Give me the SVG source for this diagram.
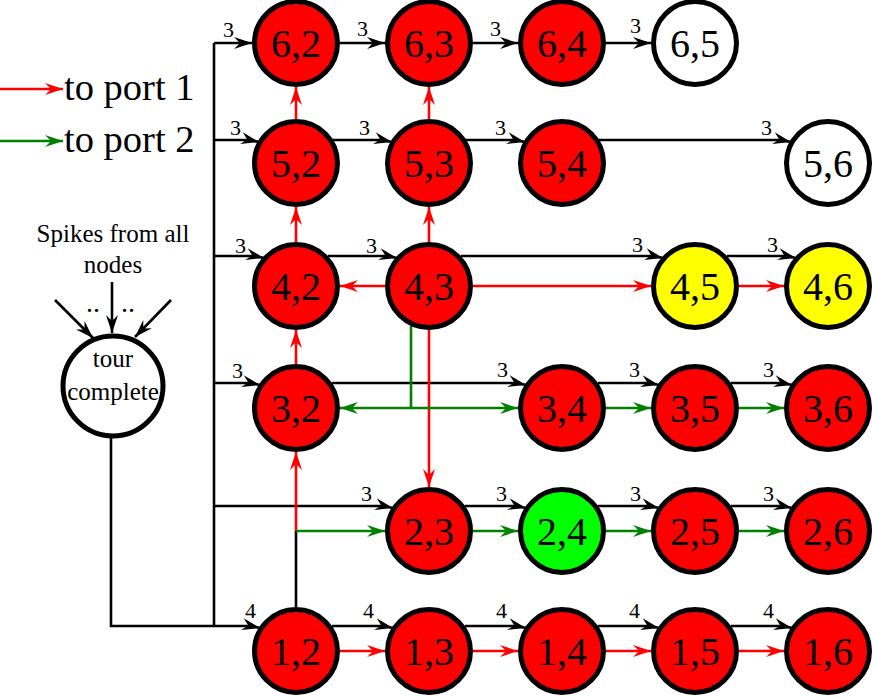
<svg xmlns="http://www.w3.org/2000/svg" width="872" height="697" viewBox="0 0 872 697">
<style>
.k{fill:none;stroke:#000;stroke-width:2.6;marker-end:url(#ab)}
.kn{fill:none;stroke:#000;stroke-width:2.6}
.r{fill:none;stroke:#f00;stroke-width:2.6;marker-end:url(#ar)}
.g{fill:none;stroke:#008000;stroke-width:2.6;marker-end:url(#ag)}
.gn{fill:none;stroke:#008000;stroke-width:2.6}
.n circle{stroke:#000;stroke-width:5}
.red{fill:#f00}.yel{fill:#ff0}.grn{fill:#0f0}.wht{fill:#fff}
</style>
<defs>
<marker id="ab" viewBox="-19 -7 20 14" markerWidth="20" markerHeight="14" refX="0" refY="0" orient="auto" markerUnits="userSpaceOnUse"><path d="M0,0 L-18,-6 L-12,0 L-18,6 Z" fill="#000"/></marker>
<marker id="ar" viewBox="-19 -7 20 14" markerWidth="20" markerHeight="14" refX="0" refY="0" orient="auto" markerUnits="userSpaceOnUse"><path d="M0,0 L-18,-6 L-12,0 L-18,6 Z" fill="#f00"/></marker>
<marker id="ag" viewBox="-19 -7 20 14" markerWidth="20" markerHeight="14" refX="0" refY="0" orient="auto" markerUnits="userSpaceOnUse"><path d="M0,0 L-18,-6 L-12,0 L-18,6 Z" fill="#008000"/></marker>
</defs>

<g id="legend">
<path class="r" d="M0,89 H63"/>
<text x="64" y="100" style="font-family:'Liberation Serif',serif;font-size:38.5px">to port 1</text>
<path class="g" d="M0,141 H63"/>
<text x="64" y="152" style="font-family:'Liberation Serif',serif;font-size:38.5px">to port 2</text>
</g>

<g id="connectors">
<path class="kn" d="M214,626 V43"/>
<path class="k" d="M111,438 V626 H251 L260,628"/>
<path class="k" d="M112,282 V333"/>
<path class="k" d="M55,300 L93,338"/>
<path class="k" d="M171,300 L135,337"/>
<path class="k" d="M214,43 H252"/>
<path class="k" d="M340,43 H385"/>
<path class="k" d="M473,43 H518"/>
<path class="k" d="M606,43 H651"/>
<path class="k" d="M214,140 H250 L259,142"/>
<path class="k" d="M333,140 H383 L392,142"/>
<path class="k" d="M466,140 H516 L525,142"/>
<path class="k" d="M599,140 H782 L791,142"/>
<path class="k" d="M214,256 H255 L264,258"/>
<path class="k" d="M328,256 H388 L397,258"/>
<path class="k" d="M461,256 H654 L663,258"/>
<path class="k" d="M727,256 H787 L796,258"/>
<path class="k" d="M214,383 H251 L260,385"/>
<path class="k" d="M332,383 H517 L526,385"/>
<path class="k" d="M598,383 H650 L659,385"/>
<path class="k" d="M731,383 H783 L792,385"/>
<path class="k" d="M214,506 H384 L393,508"/>
<path class="k" d="M465,506 H517 L526,508"/>
<path class="k" d="M598,506 H650 L659,508"/>
<path class="k" d="M731,506 H783 L792,508"/>
<path class="k" d="M332,626 H384 L393,628"/>
<path class="k" d="M465,626 H517 L526,628"/>
<path class="k" d="M598,626 H650 L659,628"/>
<path class="k" d="M731,626 H783 L792,628"/>
<path class="r" d="M340,651 H385"/>
<path class="r" d="M473,651 H518"/>
<path class="r" d="M606,651 H651"/>
<path class="r" d="M739,651 H784"/>
<path class="kn" d="M296,607 V531"/>
<path class="r" d="M296,531 V452"/>
<path class="r" d="M296,364 V330"/>
<path class="r" d="M296,242 V207"/>
<path class="r" d="M296,119 V87"/>
<path class="r" d="M429,242 V207"/>
<path class="r" d="M429,119 V87"/>
<path class="r" d="M385,286 H340"/>
<path class="r" d="M429,330 V487"/>
<path class="r" d="M473,286 H651"/>
<path class="r" d="M739,286 H784"/>
<path class="g" d="M296,531 H385"/>
<path class="gn" d="M411,326 V408"/>
<path class="g" d="M411,408 H340"/>
<path class="g" d="M411,408 H518"/>
<path class="g" d="M606,408 H651"/>
<path class="g" d="M739,408 H784"/>
<path class="g" d="M473,531 H518"/>
<path class="g" d="M606,531 H651"/>
<path class="g" d="M739,531 H784"/>
</g>

<g id="edge-labels">
<text x="223" y="37" style="font-family:'Liberation Serif',serif;font-size:22px">3</text>
<text x="357" y="36" style="font-family:'Liberation Serif',serif;font-size:22px">3</text>
<text x="490" y="36" style="font-family:'Liberation Serif',serif;font-size:22px">3</text>
<text x="630" y="33" style="font-family:'Liberation Serif',serif;font-size:22px">3</text>
<text x="230" y="135" style="font-family:'Liberation Serif',serif;font-size:22px">3</text>
<text x="359" y="135" style="font-family:'Liberation Serif',serif;font-size:22px">3</text>
<text x="495" y="135" style="font-family:'Liberation Serif',serif;font-size:22px">3</text>
<text x="761" y="135" style="font-family:'Liberation Serif',serif;font-size:22px">3</text>
<text x="235" y="253" style="font-family:'Liberation Serif',serif;font-size:22px">3</text>
<text x="366" y="253" style="font-family:'Liberation Serif',serif;font-size:22px">3</text>
<text x="632" y="252" style="font-family:'Liberation Serif',serif;font-size:22px">3</text>
<text x="767" y="252" style="font-family:'Liberation Serif',serif;font-size:22px">3</text>
<text x="232" y="378" style="font-family:'Liberation Serif',serif;font-size:22px">3</text>
<text x="497" y="377" style="font-family:'Liberation Serif',serif;font-size:22px">3</text>
<text x="629" y="377" style="font-family:'Liberation Serif',serif;font-size:22px">3</text>
<text x="763" y="377" style="font-family:'Liberation Serif',serif;font-size:22px">3</text>
<text x="361" y="501" style="font-family:'Liberation Serif',serif;font-size:22px">3</text>
<text x="496" y="501" style="font-family:'Liberation Serif',serif;font-size:22px">3</text>
<text x="630" y="501" style="font-family:'Liberation Serif',serif;font-size:22px">3</text>
<text x="763" y="501" style="font-family:'Liberation Serif',serif;font-size:22px">3</text>
<text x="245" y="618" style="font-family:'Liberation Serif',serif;font-size:22px">4</text>
<text x="363" y="618" style="font-family:'Liberation Serif',serif;font-size:22px">4</text>
<text x="496" y="618" style="font-family:'Liberation Serif',serif;font-size:22px">4</text>
<text x="629" y="618" style="font-family:'Liberation Serif',serif;font-size:22px">4</text>
<text x="763" y="618" style="font-family:'Liberation Serif',serif;font-size:22px">4</text>
</g>

<g id="tour">
<text x="113" y="242" text-anchor="middle" style="font-family:'Liberation Serif',serif;font-size:25px">Spikes from all</text>
<text x="113" y="273" text-anchor="middle" style="font-family:'Liberation Serif',serif;font-size:25px">nodes</text>
<text x="93" y="312" text-anchor="middle" style="font-family:'Liberation Serif',serif;font-size:28px">..</text>
<text x="128" y="312" text-anchor="middle" style="font-family:'Liberation Serif',serif;font-size:28px">..</text>
<circle cx="113" cy="386" r="50" fill="#fff" stroke="#000" stroke-width="5"/>
<text x="113" y="367" text-anchor="middle" style="font-family:'Liberation Serif',serif;font-size:25px">tour</text>
<text x="113" y="400" text-anchor="middle" style="font-family:'Liberation Serif',serif;font-size:25px">complete</text>
</g>

<g id="nodes">
<g id="n62" class="n"><circle class="red" cx="296" cy="43" r="41.5"/><text x="296" y="57" text-anchor="middle" style="font-family:'Liberation Serif',serif;font-size:40px">6,2</text></g>
<g id="n63" class="n"><circle class="red" cx="429" cy="43" r="41.5"/><text x="429" y="57" text-anchor="middle" style="font-family:'Liberation Serif',serif;font-size:40px">6,3</text></g>
<g id="n64" class="n"><circle class="red" cx="562" cy="43" r="41.5"/><text x="562" y="57" text-anchor="middle" style="font-family:'Liberation Serif',serif;font-size:40px">6,4</text></g>
<g id="n65" class="n"><circle class="wht" cx="695" cy="43" r="41.5"/><text x="695" y="57" text-anchor="middle" style="font-family:'Liberation Serif',serif;font-size:40px">6,5</text></g>
<g id="n52" class="n"><circle class="red" cx="296" cy="163" r="41.5"/><text x="296" y="177" text-anchor="middle" style="font-family:'Liberation Serif',serif;font-size:40px">5,2</text></g>
<g id="n53" class="n"><circle class="red" cx="429" cy="163" r="41.5"/><text x="429" y="177" text-anchor="middle" style="font-family:'Liberation Serif',serif;font-size:40px">5,3</text></g>
<g id="n54" class="n"><circle class="red" cx="562" cy="163" r="41.5"/><text x="562" y="177" text-anchor="middle" style="font-family:'Liberation Serif',serif;font-size:40px">5,4</text></g>
<g id="n56" class="n"><circle class="wht" cx="828" cy="163" r="41.5"/><text x="828" y="177" text-anchor="middle" style="font-family:'Liberation Serif',serif;font-size:40px">5,6</text></g>
<g id="n42" class="n"><circle class="red" cx="296" cy="286" r="41.5"/><text x="296" y="300" text-anchor="middle" style="font-family:'Liberation Serif',serif;font-size:40px">4,2</text></g>
<g id="n43" class="n"><circle class="red" cx="429" cy="286" r="41.5"/><text x="429" y="300" text-anchor="middle" style="font-family:'Liberation Serif',serif;font-size:40px">4,3</text></g>
<g id="n45" class="n"><circle class="yel" cx="695" cy="286" r="41.5"/><text x="695" y="300" text-anchor="middle" style="font-family:'Liberation Serif',serif;font-size:40px">4,5</text></g>
<g id="n46" class="n"><circle class="yel" cx="828" cy="286" r="41.5"/><text x="828" y="300" text-anchor="middle" style="font-family:'Liberation Serif',serif;font-size:40px">4,6</text></g>
<g id="n32" class="n"><circle class="red" cx="296" cy="408" r="41.5"/><text x="296" y="422" text-anchor="middle" style="font-family:'Liberation Serif',serif;font-size:40px">3,2</text></g>
<g id="n34" class="n"><circle class="red" cx="562" cy="408" r="41.5"/><text x="562" y="422" text-anchor="middle" style="font-family:'Liberation Serif',serif;font-size:40px">3,4</text></g>
<g id="n35" class="n"><circle class="red" cx="695" cy="408" r="41.5"/><text x="695" y="422" text-anchor="middle" style="font-family:'Liberation Serif',serif;font-size:40px">3,5</text></g>
<g id="n36" class="n"><circle class="red" cx="828" cy="408" r="41.5"/><text x="828" y="422" text-anchor="middle" style="font-family:'Liberation Serif',serif;font-size:40px">3,6</text></g>
<g id="n23" class="n"><circle class="red" cx="429" cy="531" r="41.5"/><text x="429" y="545" text-anchor="middle" style="font-family:'Liberation Serif',serif;font-size:40px">2,3</text></g>
<g id="n24" class="n"><circle class="grn" cx="562" cy="531" r="41.5"/><text x="562" y="545" text-anchor="middle" style="font-family:'Liberation Serif',serif;font-size:40px">2,4</text></g>
<g id="n25" class="n"><circle class="red" cx="695" cy="531" r="41.5"/><text x="695" y="545" text-anchor="middle" style="font-family:'Liberation Serif',serif;font-size:40px">2,5</text></g>
<g id="n26" class="n"><circle class="red" cx="828" cy="531" r="41.5"/><text x="828" y="545" text-anchor="middle" style="font-family:'Liberation Serif',serif;font-size:40px">2,6</text></g>
<g id="n12" class="n"><circle class="red" cx="296" cy="651" r="41.5"/><text x="296" y="665" text-anchor="middle" style="font-family:'Liberation Serif',serif;font-size:40px">1,2</text></g>
<g id="n13" class="n"><circle class="red" cx="429" cy="651" r="41.5"/><text x="429" y="665" text-anchor="middle" style="font-family:'Liberation Serif',serif;font-size:40px">1,3</text></g>
<g id="n14" class="n"><circle class="red" cx="562" cy="651" r="41.5"/><text x="562" y="665" text-anchor="middle" style="font-family:'Liberation Serif',serif;font-size:40px">1,4</text></g>
<g id="n15" class="n"><circle class="red" cx="695" cy="651" r="41.5"/><text x="695" y="665" text-anchor="middle" style="font-family:'Liberation Serif',serif;font-size:40px">1,5</text></g>
<g id="n16" class="n"><circle class="red" cx="828" cy="651" r="41.5"/><text x="828" y="665" text-anchor="middle" style="font-family:'Liberation Serif',serif;font-size:40px">1,6</text></g>
</g>
</svg>
